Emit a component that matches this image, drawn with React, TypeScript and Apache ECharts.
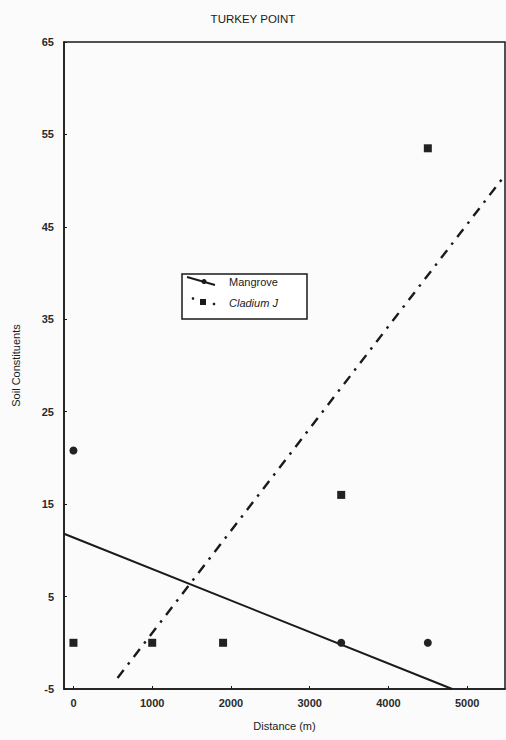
import React, { useEffect, useRef } from "react";
import * as echarts from "echarts";

const xTicks = [0, 1000, 2000, 3000, 4000, 5000];
const yTicks = [-5, 5, 15, 25, 35, 45, 55, 65];
const mangrovePoints = [
  [0, 20.8],
  [3400, 0],
  [4500, 0],
];
const cladiumPoints = [
  [0, 0],
  [1000, 0],
  [1900, 0],
  [3400, 16],
  [4500, 53.5],
];
const mangroveFit = [
  [-120, 11.8],
  [4810, -5],
];
const cladiumFit = [
  [560, -3.8],
  [5480, 50.6],
];

const FONT = "'Liberation Sans', Arial, sans-serif";
const INK = "#1a1a1a";

export default function App() {
  const ref = useRef<HTMLDivElement>(null);
  useEffect(() => {
    if (!ref.current) return;
    const chart = echarts.init(ref.current, null, { renderer: "svg" });
    chart.setOption({
      animation: false,
      backgroundColor: "#fbfbfb",
      title: {
        text: "TURKEY POINT",
        left: "center",
        top: 8,
        textStyle: { fontFamily: FONT, fontSize: 11.5, fontWeight: "normal", color: INK },
      },
      grid: { left: 64, right: 1, top: 42, bottom: 51, show: true, borderColor: INK, borderWidth: 1.5, backgroundColor: "transparent" },
      xAxis: {
        type: "value",
        min: -120,
        max: 5480,
        name: "Distance (m)",
        nameLocation: "middle",
        nameGap: 31,
        nameTextStyle: { fontFamily: FONT, fontSize: 11, color: INK },
        axisLine: { show: true, onZero: false, lineStyle: { color: INK, width: 1.5 } },
        axisTick: { show: true, inside: true, length: 3, customValues: xTicks, lineStyle: { color: INK } },
        axisLabel: {
          customValues: xTicks,
          formatter: (v: number) => String(v),
          fontFamily: FONT,
          fontSize: 11,
          fontWeight: "bold",
          color: "#2a2a2a",
          margin: 8,
        },
        splitLine: { show: false },
      },
      yAxis: {
        type: "value",
        min: -5,
        max: 65,
        name: "Soil Constituents",
        nameLocation: "middle",
        nameGap: 43,
        nameTextStyle: { fontFamily: FONT, fontSize: 11, color: INK },
        axisLine: { show: true, onZero: false, lineStyle: { color: INK, width: 1.5 } },
        axisTick: { show: true, inside: true, length: 3, customValues: yTicks, lineStyle: { color: INK } },
        axisLabel: {
          customValues: yTicks,
          formatter: (v: number) => String(v),
          fontFamily: FONT,
          fontSize: 11,
          fontWeight: "bold",
          color: "#2a2a2a",
          margin: 10,
        },
        splitLine: { show: false },
      },
      series: [
        {
          name: "Mangrove fit",
          type: "line",
          data: mangroveFit,
          symbol: "none",
          lineStyle: { color: INK, width: 2 },
        },
        {
          name: "Cladium fit",
          type: "line",
          data: cladiumFit,
          symbol: "none",
          lineStyle: { color: INK, width: 2.4, type: [10, 7, 2.5, 7] },
        },
        {
          name: "Mangrove",
          type: "scatter",
          data: mangrovePoints,
          symbol: "circle",
          symbolSize: 8,
          z: 5,
          itemStyle: { color: "#222", opacity: 1 },
        },
        {
          name: "Cladium J.",
          type: "scatter",
          data: cladiumPoints,
          symbol: "rect",
          symbolSize: 8,
          z: 5,
          itemStyle: { color: "#222", opacity: 1 },
        },
      ],
      graphic: [
        {
          type: "rect",
          shape: { x: 182, y: 274, width: 125, height: 45 },
          style: { fill: "#fff", stroke: INK, lineWidth: 1.5 },
        },
        {
          type: "line",
          shape: { x1: 187, y1: 277, x2: 215, y2: 285 },
          style: { stroke: INK, lineWidth: 2 },
        },
        { type: "circle", shape: { cx: 204, cy: 281.5, r: 2.5 }, style: { fill: INK } },
        { type: "circle", shape: { cx: 193, cy: 298.5, r: 1.3 }, style: { fill: INK } },
        { type: "rect", shape: { x: 200, y: 299, width: 6, height: 6 }, style: { fill: INK } },
        { type: "circle", shape: { cx: 214, cy: 304, r: 1.3 }, style: { fill: INK } },
        {
          type: "text",
          x: 229,
          y: 282,
          style: { text: "Mangrove", fontFamily: FONT, fontSize: 11, fill: INK, verticalAlign: "middle" },
        },
        {
          type: "text",
          x: 229,
          y: 303,
          style: { text: "Cladium J", fontFamily: FONT, fontSize: 11, fontStyle: "italic", fill: INK, verticalAlign: "middle" },
        },
      ],
    });
    return () => chart.dispose();
  }, []);
  return <div ref={ref} style={{ width: 506, height: 740, position: "absolute", left: 0, top: 0 }} />;
}
